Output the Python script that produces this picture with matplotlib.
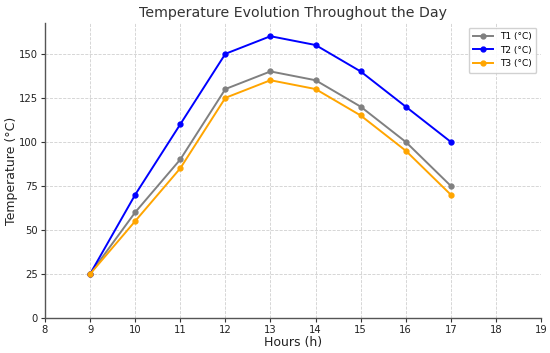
import matplotlib
matplotlib.use("Agg")
import matplotlib.pyplot as plt

hours = [9, 10, 11, 12, 13, 14, 15, 16, 17]
t1 = [25, 60, 90, 130, 140, 135, 120, 100, 75]
t2 = [25, 70, 110, 150, 160, 155, 140, 120, 100]
t3 = [25, 55, 85, 125, 135, 130, 115, 95, 70]
labels = ["T1 (°C)", "T2 (°C)", "T3 (°C)"]
colors = ["gray", "blue", "orange"]

fig = plt.figure(figsize=(5.5, 3.53), dpi=100)
ax = fig.add_axes([45/550, 1-318/353, (541-45)/550, (318-23)/353])
for vals, lab, c in zip([t1, t2, t3], labels, colors):
    ax.plot(hours, vals, marker="o", markersize=3.5, linewidth=1.4, color=c, label=lab)

ax.set_xlim(8, 19)
ax.set_ylim(0, 167.5)
ax.set_xticks(range(8, 20))
ax.set_yticks(range(0, 151, 25))
ax.grid(True, linestyle="--", color="#d0d0d0", linewidth=0.6)
ax.spines["top"].set_visible(False)
ax.spines["right"].set_visible(False)
for s in ["left", "bottom"]:
    ax.spines[s].set_color("#555555")
    ax.spines[s].set_linewidth(1.0)
ax.tick_params(colors="#333333", labelsize=7.2, length=3, width=0.8, pad=2)
for t in ax.get_xticklabels() + ax.get_yticklabels():
    t.set_color("#222222")
ax.set_title("Temperature Evolution Throughout the Day", fontsize=10.2, color="#333333", pad=4)
ax.set_xlabel("Hours (h)", fontsize=9, color="#222222", labelpad=1)
ax.set_ylabel("Temperature (°C)", fontsize=9, color="#222222", labelpad=1)
ax.legend(loc="upper right", fontsize=6.5, framealpha=0.9, borderpad=0.5,
          handlelength=2.2, bbox_to_anchor=(1.0, 1.0))
fig.savefig("out.png", dpi=100)
